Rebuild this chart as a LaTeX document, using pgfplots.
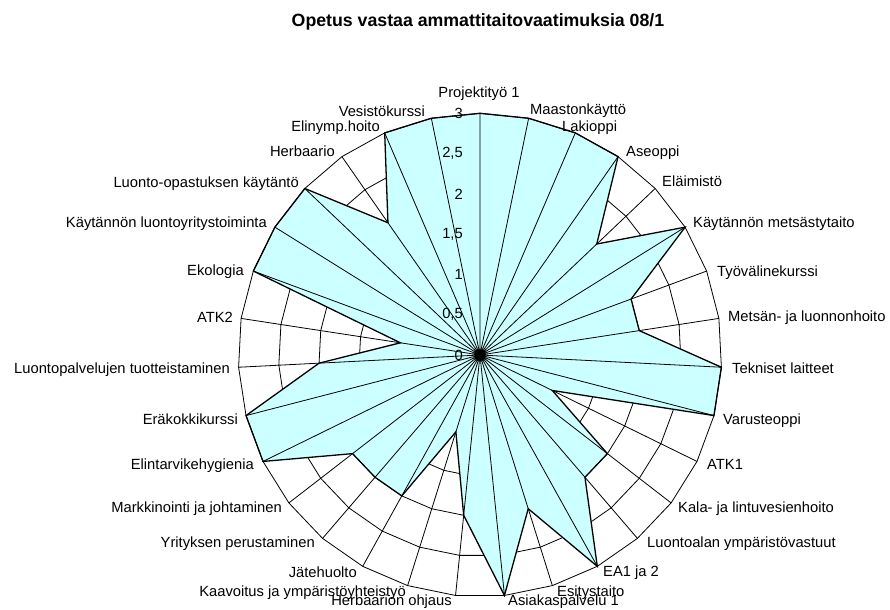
\documentclass[border=0pt]{standalone}
\usepackage{fontspec}
\setmainfont{Liberation Sans}
\usepackage{pgfplots}
\usepackage{pgfplotstable}
\usepgfplotslibrary{polar}
\pgfplotsset{compat=1.18}
\definecolor{fillc}{RGB}{204,255,255}

% angle (polar, degrees ccw from east), value
\pgfplotstableread{
angle value
90.0000 3
78.3871 3
66.7742 3
55.1613 3
43.5484 2
31.9355 3
20.3226 2
8.7097 2
357.0968 3
345.4839 3
333.8710 1
322.2581 2
310.6452 2
299.0323 3
287.4194 2
275.8065 3
264.1935 2
252.5806 1
240.9677 2
229.3548 2
217.7419 2
206.1290 3
194.5161 3
182.9032 2
171.2903 1
159.6774 3
148.0645 3
136.4516 3
124.8387 2
113.2258 3
101.6129 3
90.0000 3
}\data

\tikzset{
  cl/.style={font=\fontsize{14.8}{17}\selectfont, inner sep=0pt},
  rl/.style={cl, anchor=base west},
  ll/.style={cl, anchor=base east},
}

\begin{document}
\begin{tikzpicture}
\useasboundingbox (-480bp,-255bp) rectangle (410bp,355bp);
\begin{polaraxis}[
  at={(0,0)}, anchor=center,
  width=483.4bp, height=483.4bp, scale only axis,
  ymin=0, ymax=3,
  clip=false,
  xtick={90.0000,78.3871,66.7742,55.1613,43.5484,31.9355,20.3226,8.7097,357.0968,345.4839,333.8710,322.2581,310.6452,299.0323,287.4194,275.8065,264.1935,252.5806,240.9677,229.3548,217.7419,206.1290,194.5161,182.9032,171.2903,159.6774,148.0645,136.4516,124.8387,113.2258,101.6129},
  xticklabels={},
  ytick=\empty,
  xmajorgrids=true, ymajorgrids=false,
  major grid style={black, line width=0.8bp},
  major tick length=0pt,
  axis line style={draw=none},
  axis on top,
]
% inner polygon rings (hidden under the fill where covered)
\addplot[black, line width=0.8bp] table[x=angle, y expr=0.5] {\data};
\addplot[black, line width=0.8bp] table[x=angle, y expr=1] {\data};
\addplot[black, line width=0.8bp] table[x=angle, y expr=1.5] {\data};
\addplot[black, line width=0.8bp] table[x=angle, y expr=2] {\data};
\addplot[black, line width=0.8bp] table[x=angle, y expr=2.5] {\data};
% filled series
\addplot[fill=fillc, draw=black, line width=1.3bp, line join=miter] table[x=angle, y=value] {\data};
% outer ring
\addplot[black, line width=0.8bp] table[x=angle, y expr=3] {\data};
\node[anchor=east, font=\fontsize{14.8}{17}\selectfont, inner sep=0pt, xshift=-17bp] at (axis cs:90,0) {0};
\node[anchor=east, font=\fontsize{14.8}{17}\selectfont, inner sep=0pt, xshift=-17bp] at (axis cs:90,0.5) {0,5};
\node[anchor=east, font=\fontsize{14.8}{17}\selectfont, inner sep=0pt, xshift=-17bp] at (axis cs:90,1) {1};
\node[anchor=east, font=\fontsize{14.8}{17}\selectfont, inner sep=0pt, xshift=-17bp] at (axis cs:90,1.5) {1,5};
\node[anchor=east, font=\fontsize{14.8}{17}\selectfont, inner sep=0pt, xshift=-17bp] at (axis cs:90,2) {2};
\node[anchor=east, font=\fontsize{14.8}{17}\selectfont, inner sep=0pt, xshift=-17bp] at (axis cs:90,2.5) {2,5};
\node[anchor=east, font=\fontsize{14.8}{17}\selectfont, inner sep=0pt, xshift=-17bp] at (axis cs:90,3) {3};
\end{polaraxis}
% category labels
\node[cl, anchor=base] at (-1bp,257bp) {Projektityö 1};
\node[rl] at (50bp,240bp) {Maastonkäyttö};
\node[rl] at (82bp,223bp) {Lakioppi};
\node[rl] at (146bp,198bp) {Aseoppi};
\node[rl] at (182bp,168bp) {Eläimistö};
\node[rl] at (213bp,127bp) {Käytännön metsästytaito};
\node[rl] at (237bp,78bp) {Työvälinekurssi};
\node[rl] at (248bp,34bp) {Metsän- ja luonnonhoito};
\node[rl] at (252bp,-18bp) {Tekniset laitteet};
\node[rl] at (243bp,-69bp) {Varusteoppi};
\node[rl] at (227bp,-114bp) {ATK1};
\node[rl] at (198bp,-157bp) {Kala- ja lintuvesienhoito};
\node[rl] at (167bp,-192bp) {Luontoalan ympäristövastuut};
\node[rl] at (123bp,-221bp) {EA1 ja 2};
\node[rl] at (77bp,-241bp) {Esitystaito};
\node[rl] at (28bp,-250bp) {Asiakaspalvelu 1};
\node[ll] at (-28bp,-250bp) {Herbaarion ohjaus};
\node[ll] at (-74bp,-241bp) {Kaavoitus ja ympäristöyhteistyö};
\node[ll] at (-123bp,-222bp) {Jätehuolto};
\node[ll] at (-165bp,-192bp) {Yrityksen perustaminen};
\node[ll] at (-198bp,-157bp) {Markkinointi ja johtaminen};
\node[ll] at (-226bp,-114bp) {Elintarvikehygienia};
\node[ll] at (-242bp,-69bp) {Eräkokkikurssi};
\node[ll] at (-250bp,-18bp) {Luontopalvelujen tuotteistaminen};
\node[ll] at (-247bp,33bp) {ATK2};
\node[ll] at (-236bp,79bp) {Ekologia};
\node[ll] at (-213bp,127bp) {Käytännön luontoyritystoiminta};
\node[ll] at (-181bp,167bp) {Luonto-opastuksen käytäntö};
\node[ll] at (-145bp,198bp) {Herbaario};
\node[ll] at (-100bp,223bp) {Elinymp.hoito};
\node[ll] at (-55bp,238bp) {Vesistökurssi};
\node[font=\fontsize{17.8}{20}\selectfont\bfseries] at (-2bp,333bp) {Opetus vastaa ammattitaitovaatimuksia 08/1};
\end{tikzpicture}
\end{document}
